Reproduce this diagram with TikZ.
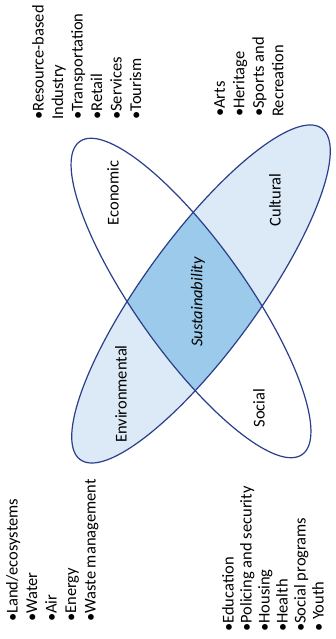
\documentclass[tikz,border=0pt]{standalone}
\usepackage{fontspec}
\setmainfont{Carlito}
\usetikzlibrary{positioning}

\definecolor{ringline}{RGB}{42,62,138}
\definecolor{ringfill}{RGB}{220,233,246}
\definecolor{corefill}{RGB}{155,202,235}

\begin{document}
\begin{tikzpicture}[
    x=1pt, y=1pt,
    ring/.style={draw=ringline, line width=1.2pt},
    tag/.style={rotate=90, inner sep=0pt, font=\fontsize{16.5}{19.5}\selectfont},
    items/.style={tag, align=left, anchor=north west}
  ]
    \useasboundingbox[fill=white] (0,0) rectangle (335,639);

    % the two rings, Economic-Social and Environmental-Cultural
    \def\ringA{(191,341) ellipse [x radius=192, y radius=55, rotate=-54.6]}
    \def\ringB{(201,345) ellipse [x radius=205, y radius=57, rotate=53.9]}

    \fill[ringfill] \ringB;
    \begin{scope}
      \clip \ringA;
      \fill[corefill] \ringB;
    \end{scope}
    \draw[ring] \ringA;
    \draw[ring] \ringB;

    \node[tag] (econ) at (113,446) {Economic};
    \node[tag] (cult) at (275,439) {Cultural};
    \node[tag] (sust) at (198,337) {\itshape Sustainability};
    \node[tag] (env)  at (121,245) {Environmental};
    \node[tag] (soc)  at (259,231) {Social};

    \node[items] (econlist) at (32,519) {•Resource-based\\Industry\\•Transportation\\•Retail\\•Services\\•Tourism};
    \node[items] (cultlist) at (214,522) {•Arts\\•Heritage\\•Sports and\\Recreation};
    \node[items] (envlist)  at (6,17)   {•Land/ecosystems\\•Water\\•Air\\•Energy\\•Waste management};
    \node[items, font=\fontsize{16.5}{18}\selectfont] (soclist) at (222,7)
      {•Education\\•Policing and security\\•Housing\\•Health\\•Social programs\\• Youth};
  \end{tikzpicture}
\end{document}
